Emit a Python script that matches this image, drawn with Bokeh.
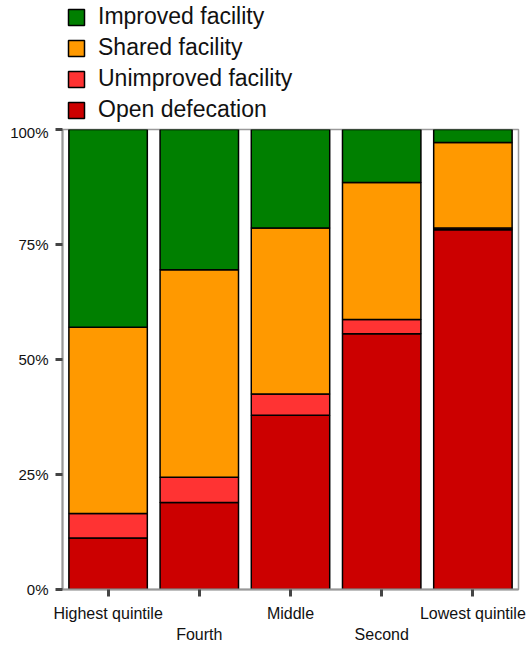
from bokeh.plotting import figure
from bokeh.layouts import column
from bokeh.models import (ColumnDataSource, Legend, LegendItem, LinearAxis, FixedTicker,
                          Range1d)
from bokeh.embed import file_html
from bokeh.resources import INLINE

categories = ["Highest quintile", "Fourth", "Middle", "Second", "Lowest quintile"]
open_defecation = [11.2, 18.9, 37.9, 55.6, 78.2]
unimproved = [5.3, 5.5, 4.6, 3.1, 0.4]
shared = [40.5, 45.1, 36.1, 29.8, 18.6]
improved = [43.0, 30.5, 21.4, 11.5, 2.8]
series_names = ["Open defecation", "Unimproved facility", "Shared facility", "Improved facility"]
colors = ["#cc0000", "#ff3333", "#ff9900", "#007f00"]
y_ticks = [0, 25, 50, 75, 100]

x = [i + 0.5 for i in range(len(categories))]
src = ColumnDataSource(dict(x=x, od=open_defecation, un=unimproved, sh=shared, im=improved))
stack_keys = ["od", "un", "sh", "im"]

FONT = "Liberation Sans"

# ---- legend strip on top ----
lg = figure(width=528, height=123, output_backend="svg", toolbar_location=None,
            x_range=Range1d(0, len(categories)), y_range=Range1d(0, 100),
            x_axis_location=None, y_axis_location=None,
            min_border_left=0, min_border_right=0, min_border_top=0, min_border_bottom=0)
lg.xgrid.visible = False
lg.ygrid.visible = False
lg.outline_line_color = None
lg_renderers = lg.vbar_stack(stack_keys, x="x", width=0.86, source=src,
                             color=colors, line_color="black", line_width=1.5)
for r in lg_renderers:
    r.visible = False

items = [LegendItem(label=series_names[i], renderers=[lg_renderers[i]]) for i in [3, 2, 1, 0]]
legend = Legend(items=items, orientation="vertical", location=(4, 0))
legend.label_text_font = FONT
legend.label_text_font_size = "23px"
legend.label_text_color = "#111111"
legend.glyph_width = 20
legend.glyph_height = 20
legend.label_standoff = 12
legend.spacing = 4
legend.padding = 0
legend.margin = 0
legend.border_line_color = None
legend.background_fill_alpha = 0
legend.inactive_fill_alpha = 0
legend.label_height = 20
lg.add_layout(legend)

# ---- main chart ----
p = figure(width=528, height=522, output_backend="svg", toolbar_location=None,
           x_range=Range1d(0, len(categories)), y_range=Range1d(0, 100),
           x_axis_location=None, y_axis_location=None,
           min_border_left=62, min_border_right=10, min_border_top=6, min_border_bottom=0)

renderers = p.vbar_stack(stack_keys, x="x", width=0.86, source=src,
                         color=colors, line_color="black", line_width=1.5)

p.xgrid.visible = False
p.ygrid.visible = False
p.outline_line_color = "#999999"
p.outline_line_width = 1.5

yax = LinearAxis(ticker=FixedTicker(ticks=y_ticks))
yax.major_label_overrides = {t: f"{t}%" for t in y_ticks}
yax.axis_line_color = "#999999"
yax.axis_line_width = 2
yax.major_tick_line_color = "#444444"
yax.major_tick_line_width = 3
yax.major_tick_out = 7
yax.major_tick_in = 0
yax.minor_tick_line_color = None
yax.major_label_text_font = FONT
yax.major_label_text_font_size = "15px"
yax.major_label_text_color = "#111111"
yax.major_label_standoff = 7
p.add_layout(yax, "left")

xax = LinearAxis(ticker=FixedTicker(ticks=x))
xax.major_label_overrides = {xv: (c if i % 2 == 0 else "") for i, (xv, c) in enumerate(zip(x, categories))}
xax.axis_line_color = "#999999"
xax.axis_line_width = 2
xax.major_tick_line_color = "#444444"
xax.major_tick_line_width = 3
xax.major_tick_out = 7
xax.major_tick_in = 0
xax.minor_tick_line_color = None
xax.major_label_text_font = FONT
xax.major_label_text_font_size = "16px"
xax.major_label_text_color = "#111111"
xax.major_label_standoff = 8
p.add_layout(xax, "below")

x2 = [xv for i, xv in enumerate(x) if i % 2 == 1]
xax2 = LinearAxis(ticker=FixedTicker(ticks=x2))
xax2.major_label_overrides = {xv: categories[i] for i, xv in enumerate(x) if i % 2 == 1}
xax2.axis_line_color = None
xax2.major_tick_line_color = None
xax2.major_tick_out = 0
xax2.major_tick_in = 0
xax2.minor_tick_line_color = None
xax2.major_label_text_font = FONT
xax2.major_label_text_font_size = "16px"
xax2.major_label_text_color = "#111111"
xax2.major_label_standoff = 1
p.add_layout(xax2, "below")

layout = column(lg, p, spacing=0)
open("out.html", "w").write(file_html(layout, INLINE))
